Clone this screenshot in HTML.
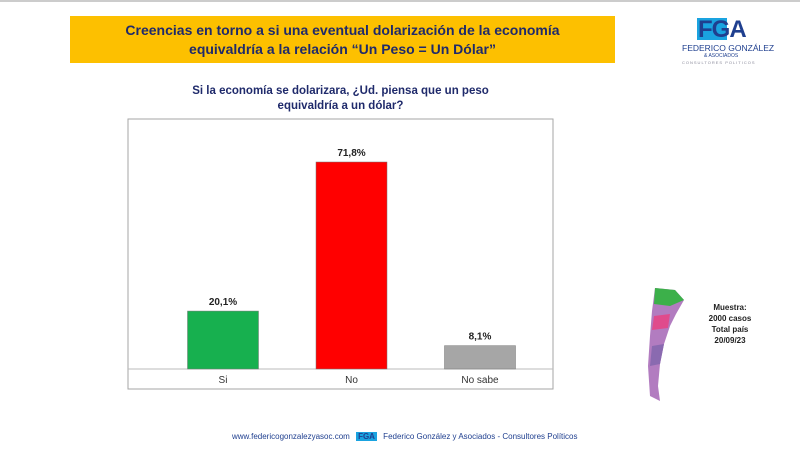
<!DOCTYPE html>
<html><head><meta charset="utf-8"><style>
body{margin:0;width:800px;height:450px;background:#fff;position:relative;overflow:hidden;font-family:"Liberation Sans",sans-serif}
.abs{position:absolute}
</style></head><body>
<div class="abs" style="left:0;top:0;width:800px;height:2px;background:#ccc"></div>
<div class="abs" style="left:70px;top:16px;width:545px;height:47px;background:#fdc000;color:#1f2a6b;font-weight:bold;font-size:14px;text-align:center;line-height:19px;padding-top:5px;box-sizing:border-box">Creencias en torno a si una eventual dolarización de la economía<br>equivaldría a la relación “Un Peso = Un Dólar”</div>
<div class="abs" style="left:680px;top:16px;width:120px;height:50px">
 <div class="abs" style="left:17px;top:2px;width:30px;height:22px;background:#1aa3e0"></div>
 <div class="abs" style="left:18px;top:0;font-size:24px;font-weight:bold;color:#1f3f8f;letter-spacing:-1px">FGA</div>
 <div class="abs" style="left:2px;top:27px;font-size:8.5px;color:#1f3f8f;white-space:nowrap">FEDERICO GONZÁLEZ</div>
 <div class="abs" style="left:24px;top:37px;font-size:5px;color:#1f3f8f">&amp; ASOCIADOS</div>
 <div class="abs" style="left:2px;top:44px;font-size:4px;color:#889;letter-spacing:1px">CONSULTORES POLITICOS</div>
</div>
<div class="abs" style="left:128px;top:84px;width:425px;text-align:center;font-size:11.5px;font-weight:bold;color:#1f2a6b;line-height:15px">Si la economía se dolarizara, ¿Ud. piensa que un peso<br>equivaldría a un dólar?</div>
<svg class="abs" style="left:0;top:0" width="800" height="450">
<rect x="128" y="119" width="425" height="270" fill="none" stroke="#a6a6a6"/>
<line x1="128" y1="369" x2="553" y2="369" stroke="#bbb"/>
<g id="bars"></g>
</svg>
<div class="abs" style="left:690px;top:302px;width:80px;text-align:center;font-size:8px;font-weight:bold;color:#222;line-height:11px">Muestra:<br>2000 casos<br>Total país<br>20/09/23</div>
<svg class="abs" style="left:640px;top:286px" width="50" height="120">
<polygon points="15,2 35,4 44,14 36,28 30,40 24,58 20,78 18,100 20,115 10,110 8,80 10,50 12,25" fill="#b27cc0"/>
<polygon points="15,2 35,4 44,14 30,20 14,18" fill="#3cb04a"/>
<polygon points="14,30 30,28 28,42 12,44" fill="#e04b8c"/>
<polygon points="12,60 24,58 20,78 10,80" fill="#8a6ab0"/>
</svg>
<div class="abs" style="left:232px;top:432px;font-size:8px;color:#1f3f8f;white-space:nowrap">www.federicogonzalezyasoc.com <span style="background:#1aa3e0;font-weight:bold;padding:0 2px;margin:0 4px">FGA</span> Federico González y Asociados - Consultores Políticos</div>
<script>
const categories=["Si","No","No sabe"];
const values=[20.1,71.8,8.1];
const labels=["20,1%","71,8%","8,1%"];
const colors=["#17b04f","#ff0000","#a6a6a6"];
const ns="http://www.w3.org/2000/svg";
const g=document.getElementById("bars");
const base=369,scale=207/71.8,bw=71;
const yS=v=>base-v*scale;
const xC=i=>223+128.5*i;
categories.forEach((c,i)=>{
 const r=document.createElementNS(ns,"rect");
 r.setAttribute("x",xC(i)-bw/2);r.setAttribute("y",yS(values[i]));
 r.setAttribute("width",bw);r.setAttribute("height",base-yS(values[i]));
 r.setAttribute("fill",colors[i]);r.setAttribute("stroke","#777");r.setAttribute("stroke-width","0.5");
 
 
 g.appendChild(r);
 const t=document.createElementNS(ns,"text");
 t.setAttribute("x",xC(i));t.setAttribute("y",yS(values[i])-6);
 t.setAttribute("text-anchor","middle");t.setAttribute("font-size","10");t.setAttribute("font-weight","bold");t.setAttribute("fill","#222");
 t.textContent=labels[i];
 
 
 g.appendChild(t);
 const l=document.createElementNS(ns,"text");
 l.setAttribute("x",xC(i));l.setAttribute("y",base+14);
 l.setAttribute("text-anchor","middle");l.setAttribute("font-size","10");l.setAttribute("fill","#333");
 l.textContent=c;
 
 
 g.appendChild(l);
});
</script>
</body></html>
